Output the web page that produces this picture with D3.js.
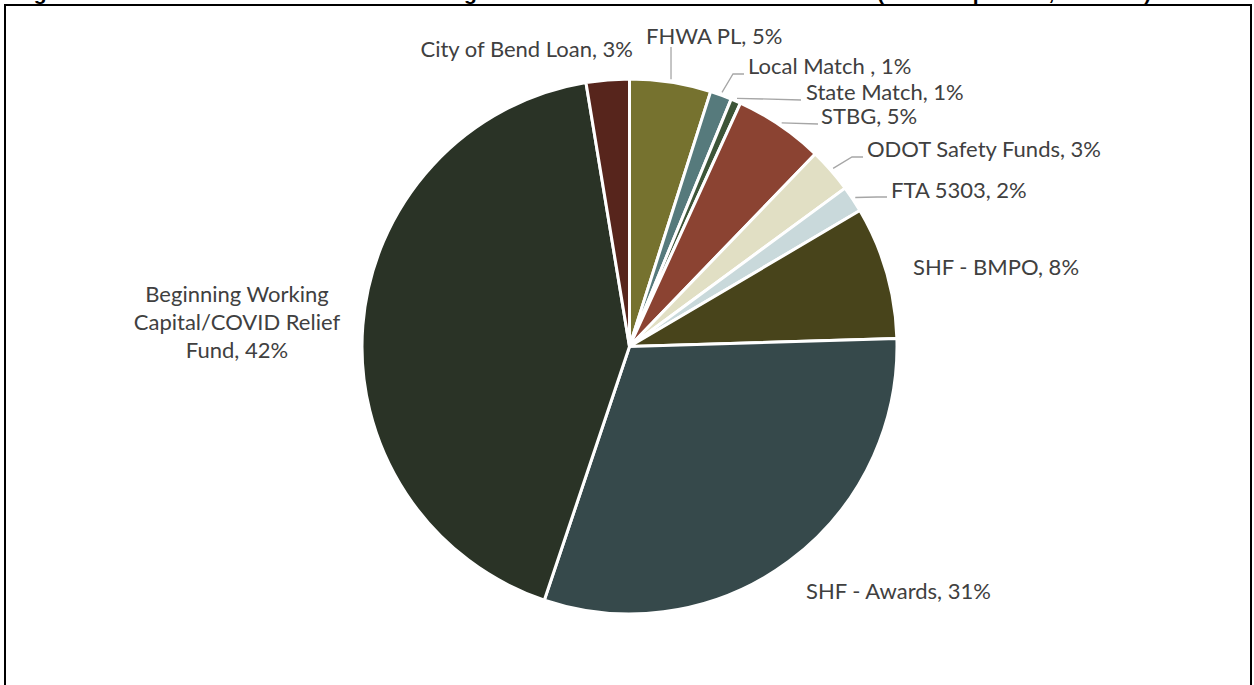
<!DOCTYPE html>
<html>
<head>
<meta charset="utf-8">
<script src="https://cdn.jsdelivr.net/npm/d3@7"></script>
<style>
  html, body { margin: 0; padding: 0; background: #ffffff; }
  svg { display: block; }
</style>
</head>
<body>
<svg id="chart" width="1254" height="685"></svg>
<script>
// Revenue sources, share of total budget (percent)
const categories = [
  "FHWA PL",
  "Local Match ",
  "State Match",
  "STBG",
  "ODOT Safety Funds",
  "FTA 5303",
  "SHF - BMPO",
  "SHF - Awards",
  "Beginning Working Capital/COVID Relief Fund",
  "City of Bend Loan"
];
const shares = [4.9, 1.3, 0.6, 5.4, 2.7, 1.6, 8.0, 30.6, 42.2, 2.6];
const sliceColors = [
  "#76722f", "#567a7c", "#3d5538", "#8b4332", "#e1dfc4",
  "#c9d9db", "#48441b", "#36494b", "#2a3326", "#57251c"
];

// Label placement (text x, baseline y, anchor, leader elbow points)
const labelLayout = [
  { x: 646, y: 44, anchor: "start", leader: [[null, 47]] },
  { x: 748, y: 74, anchor: "start", leader: [[733, 74], [744, 74]] },
  { x: 806, y: 100, anchor: "start", leader: [[801, 100]] },
  { x: 821, y: 124, anchor: "start", leader: [[818, 124]] },
  { x: 867, y: 157, anchor: "start", leader: [[852, 157], [863, 157]] },
  { x: 891, y: 198, anchor: "start", leader: [[877, 197], [887, 197]] },
  { x: 913, y: 275, anchor: "start", leader: null },
  { x: 806, y: 599, anchor: "start", leader: null },
  { x: 237, y: 302, anchor: "middle", leader: null, lines: ["Beginning Working", "Capital/COVID Relief", "Fund, {p}"] },
  { x: 633, y: 57, anchor: "end", leader: null }
];

const svg = d3.select("#chart");
const cx = 629.5, cy = 346.5, radius = 267.5;
const labelFont = "Lato, 'Open Sans', 'Noto Sans', sans-serif";

// Title (sits mostly above the visible frame)
svg.append("text")
  .attr("x", 15)
  .attr("y", -0.5)
  .attr("font-family", "'Liberation Sans', Arial, sans-serif")
  .attr("font-weight", "bold")
  .attr("font-size", 21)
  .attr("fill", "#000")
  .text("Figure 1: Bend MPO FY 2021-23 Revised Budget Total Revenue Sources and Amounts (Share in percent, rounded)");

// Frame
svg.append("rect")
  .attr("x", 5)
  .attr("y", 5)
  .attr("width", 1246)
  .attr("height", 700)
  .attr("fill", "none")
  .attr("stroke", "#000")
  .attr("stroke-width", 2);

const total = d3.sum(shares);
const data = categories.map((c, i) => ({ name: c, value: shares[i], color: sliceColors[i], layout: labelLayout[i] }));

const pie = d3.pie().value(d => d.value).sort(null).startAngle(0).endAngle(2 * Math.PI);
const arcs = pie(data);

const arc = d3.arc().innerRadius(0).outerRadius(radius);
const edgeArc = d3.arc().innerRadius(radius + 3).outerRadius(radius + 3);

const g = svg.append("g").attr("transform", `translate(${cx},${cy})`);

g.selectAll("path.slice")
  .data(arcs)
  .join("path")
  .attr("class", "slice")
  .attr("d", arc)
  .attr("fill", d => d.data.color)
  .attr("stroke", "#ffffff")
  .attr("stroke-width", 3)
  .attr("stroke-linejoin", "round");

const pct = v => Math.round(v / total * 100) + "%";

// Leader lines
const leaderLine = d3.line();
arcs.forEach(a => {
  const L = a.data.layout;
  if (!L.leader) return;
  const [px, py] = edgeArc.centroid(a);
  const start = [cx + px, cy + py];
  const pts = [start].concat(L.leader.map(p => [p[0] === null ? start[0] : p[0], p[1]]));
  svg.append("path")
    .attr("d", leaderLine(pts))
    .attr("fill", "none")
    .attr("stroke", "#a6a6a6")
    .attr("stroke-width", 1.3);
});

// Data labels
arcs.forEach(a => {
  const L = a.data.layout;
  const lines = L.lines
    ? L.lines.map(s => s.replace("{p}", pct(a.data.value)))
    : [a.data.name + ", " + pct(a.data.value)];
  const t = svg.append("text")
    .attr("x", L.x)
    .attr("y", L.y)
    .attr("text-anchor", L.anchor)
    .attr("font-family", labelFont)
    .attr("font-size", 22)
    .attr("fill", "#404040");
  lines.forEach((s, i) => {
    t.append("tspan")
      .attr("x", L.x)
      .attr("dy", i === 0 ? 0 : 28)
      .text(s);
  });
});
</script>
</body>
</html>
